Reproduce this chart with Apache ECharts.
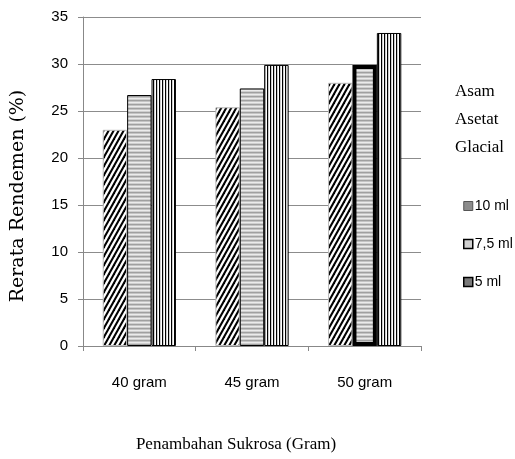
<!DOCTYPE html>
<html>
<head>
<meta charset="utf-8">
<script src="https://cdn.jsdelivr.net/npm/echarts@6/dist/echarts.min.js"></script>
<style>html,body{margin:0;padding:0;background:#fff;}#c{width:515px;height:459px;}</style>
</head>
<body>
<div id="c"></div>
<script>
var categories = ['40 gram', '45 gram', '50 gram'];
var seriesNames = ['10 ml', '7,5 ml', '5 ml'];
var values10 = [23.0, 25.4, 28.0];
var values75 = [26.7, 27.4, 29.9];
var values5 = [28.4, 29.9, 33.3];
var yTicks = [0, 5, 10, 15, 20, 25, 30, 35];
var yName = 'Rerata Rendemen (%)';
var xName = 'Penambahan Sukrosa (Gram)';
var legendTitle = 'Asam\nAsetat\nGlacial';

function makeCanvas(w, h, draw) {
  var c = document.createElement('canvas');
  c.width = w; c.height = h;
  var ctx = c.getContext('2d');
  ctx.fillStyle = '#fff';
  ctx.fillRect(0, 0, w, h);
  draw(ctx, w, h);
  return c;
}
var diagCanvas = makeCanvas(5, 9, function (ctx, w, h) {
  ctx.fillStyle = '#000';
  for (var k = -1; k <= 1; k++) {
    var o = k * w;
    ctx.beginPath();
    ctx.moveTo(o + 0, h);
    ctx.lineTo(o + 2.4, h);
    ctx.lineTo(o + w + 2.4, 0);
    ctx.lineTo(o + w, 0);
    ctx.closePath();
    ctx.fill();
  }
});
var horzCanvas = makeCanvas(1, 4, function (ctx) {
  var cols = ['#a0a0a0', '#c4c4c4', '#ebebeb', '#cfcfcf'];
  for (var i = 0; i < 4; i++) { ctx.fillStyle = cols[i]; ctx.fillRect(0, i, 1, 1); }
});
var vertCanvas = makeCanvas(3, 1, function (ctx) {
  ctx.fillStyle = '#000';
  ctx.fillRect(0, 0, 1.2, 1);
});

var chart = echarts.init(document.getElementById('c'), null, {renderer: 'canvas'});
var gridLeft = 83, gridRight = 94, gridTop = 17, gridBottom = 113;
var sansFont = 'Liberation Sans';

var data75 = values75.map(function (v, i) {
  if (i === 2) return {value: v, itemStyle: {borderWidth: 4, borderColor: '#000'}};
  return v;
});

chart.setOption({
  animation: false,
  backgroundColor: '#fff',
  grid: {left: gridLeft, right: gridRight, top: gridTop, bottom: gridBottom, containLabel: false},
  title: {
    text: legendTitle,
    left: 450, top: 73,
    textStyle: {fontFamily: 'Liberation Serif', fontSize: 17, fontWeight: 'normal', color: '#000', lineHeight: 28}
  },
  legend: {
    orient: 'vertical',
    left: 458, top: 194,
    itemWidth: 9, itemHeight: 9, itemGap: 24,
    icon: 'rect',
    textStyle: {fontFamily: sansFont, fontSize: 14, color: '#000', padding: [0, 0, 0, -3]},
    data: [
      {name: seriesNames[0], itemStyle: {color: '#8c8c8c', borderColor: '#555', borderWidth: 1}},
      {name: seriesNames[1], itemStyle: {color: '#d0d0d0', borderColor: '#000', borderWidth: 1.5}},
      {name: seriesNames[2], itemStyle: {color: '#7a7a7a', borderColor: '#000', borderWidth: 1.5}}
    ]
  },
  xAxis: {
    type: 'category',
    data: categories,
    axisLine: {show: true, lineStyle: {color: '#888', width: 1}},
    axisTick: {show: true, length: 5, lineStyle: {color: '#888'}},
    axisLabel: {fontFamily: sansFont, fontSize: 15, color: '#000', margin: 29}
  },
  yAxis: {
    type: 'value',
    min: 0, max: 35, interval: 5,
    axisLine: {show: true, lineStyle: {color: '#888', width: 1}},
    axisTick: {show: true, length: 5, lineStyle: {color: '#888'}},
    splitLine: {show: true, lineStyle: {color: '#8c8c8c', width: 1}},
    axisLabel: {
      fontFamily: sansFont, fontSize: 15, color: '#000', margin: 15,
      formatter: function (v) { return yTicks.indexOf(v) >= 0 ? String(v) : ''; }
    }
  },
  graphic: [
    {type: 'text', x: 18, y: 196, rotation: Math.PI / 2,
     style: {text: yName, font: '19px "DejaVu Serif"', fill: '#000', textAlign: 'center', textVerticalAlign: 'middle'}},
    {type: 'text', x: 236, y: 445,
     style: {text: xName, font: '17px "Liberation Serif"', fill: '#000', textAlign: 'center', textVerticalAlign: 'middle'}}
  ],
  series: [
    {name: seriesNames[0], type: 'bar', data: values10, barGap: '0%', barCategoryGap: '35%',
     itemStyle: {color: {image: diagCanvas, repeat: 'repeat'}, borderColor: '#bbb', borderWidth: 1}},
    {name: seriesNames[1], type: 'bar', data: data75,
     itemStyle: {color: {image: horzCanvas, repeat: 'repeat'}, borderColor: '#000', borderWidth: 1}},
    {name: seriesNames[2], type: 'bar', data: values5,
     itemStyle: {color: {image: vertCanvas, repeat: 'repeat'}, borderColor: '#000', borderWidth: 1}}
  ]
});
</script>
</body>
</html>
